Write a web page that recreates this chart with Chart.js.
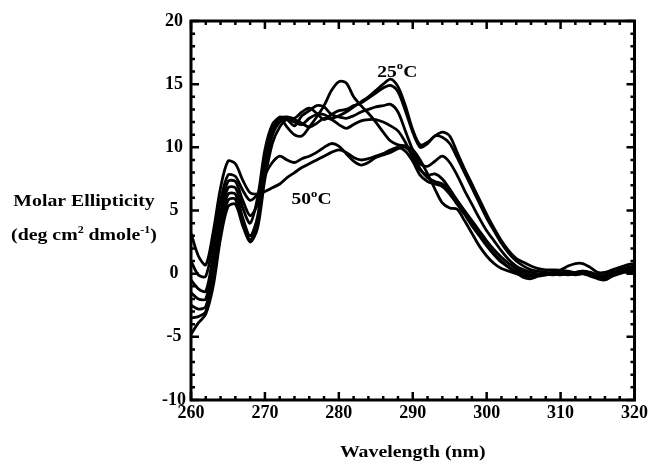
<!DOCTYPE html>
<html>
<head>
<meta charset="utf-8">
<script src="https://cdn.jsdelivr.net/npm/chart.js@4.4.1/dist/chart.umd.min.js"></script>
<style>
html,body{margin:0;padding:0;background:#fff;}
#wrap{width:651px;height:464px;position:relative;}
</style>
</head>
<body>
<div id="wrap"><canvas id="c" width="651" height="464"></canvas></div>
<script>
const wavelength = [260,261,262,263,264,265,266,267,268,269,270,271,272,273,274,275,276,277,278,279,280,281,282,283,284,285,286,287,288,289,290,291,292,293,294,295,296,297,298,299,300,301,302,303,304,305,306,307,308,309,310,311,312,313,314,315,316,317,318,319,320];

const s25 = [-4.8,-3.9,-3.2,-1.0,2.8,5.3,5.5,3.8,2.5,3.6,
  7.5,10.3,11.6,12.2,12.0,11.8,12.3,12.6,12.6,12.3,
  12.5,12.8,13.2,13.6,14.0,14.5,15.0,15.4,14.8,13.3,
  11.4,10.2,10.4,10.9,11.2,10.9,9.6,8.3,7.1,5.9,
  4.7,3.6,2.6,1.8,1.2,0.9,0.6,0.4,0.3,0.3,
  0.3,0.6,0.8,0.8,0.5,0.1,0.1,0.3,0.5,0.7,0.8];
const s30 = [-3.5,-3.4,-3.0,-0.5,3.4,5.8,5.9,4.0,2.7,4.0,
  8.2,11.0,12.3,12.4,12.3,12.8,13.1,12.7,12.2,12.6,
  12.9,13.0,13.3,13.5,13.9,14.3,14.7,14.9,14.4,12.9,
  11.2,10.0,10.3,10.9,10.8,10.3,9.2,8.0,6.8,5.6,
  4.4,3.4,2.4,1.6,1.0,0.6,0.3,0.2,0.1,0.1,
  0.2,0.2,0.1,0.2,0.1,-0.2,-0.3,0.0,0.3,0.5,0.6];
const s35 = [-2.5,-2.8,-2.6,0.2,4.0,6.3,6.3,4.4,3.0,4.5,
  8.8,11.5,12.4,12.2,11.7,12.5,12.9,13.3,13.2,12.6,
  12.4,12.3,12.5,12.8,13.0,13.2,13.3,13.4,12.8,11.3,
  9.8,8.7,8.5,8.9,9.3,8.8,7.8,6.6,5.5,4.4,
  3.4,2.6,1.8,1.1,0.6,0.3,0.1,0.0,-0.1,0.0,
  0.1,0.0,0.1,0.2,0.0,-0.3,-0.2,0.1,0.2,0.3,0.4];
const s37 = [-1.5,-2.0,-2.0,0.8,4.5,6.8,6.8,5.2,4.0,6.0,
  9.8,11.8,12.3,11.6,11.0,10.9,11.6,12.4,13.3,14.5,
  15.2,15.1,14.0,13.3,12.7,12.0,11.2,10.5,10.2,10.1,
  9.8,9.0,7.9,6.7,5.6,5.2,5.1,4.2,3.2,2.2,
  1.4,0.8,0.4,0.2,0.0,-0.2,-0.2,-0.1,0.0,-0.1,
  0.0,0.1,0.0,0.0,-0.2,-0.4,-0.5,-0.2,0.0,0.2,0.3];
const s40 = [-0.5,-1.2,-1.4,1.5,5.0,7.3,7.3,5.8,4.6,5.5,
  9.0,11.0,12.0,12.3,12.2,11.9,11.6,11.9,12.3,12.2,
  11.8,11.5,11.8,12.1,12.2,12.2,12.0,11.7,11.3,10.4,
  9.2,8.2,7.8,7.9,7.5,6.7,5.8,4.9,4.0,3.1,
  2.3,1.6,1.0,0.5,0.1,-0.3,-0.4,-0.2,-0.1,0.0,
  -0.1,0.0,0.1,0.0,-0.1,-0.2,-0.1,0.1,0.2,0.1,0.2];
const s45 = [1.0,-0.1,-0.2,2.5,5.8,7.8,7.7,6.6,5.8,6.3,
  7.8,8.8,9.3,9.0,8.8,9.1,9.3,9.6,10.0,10.3,
  10.1,9.5,8.9,8.6,8.8,9.2,9.4,9.6,9.9,10.0,
  9.4,8.3,7.6,7.3,7.1,6.5,5.8,5.0,4.2,3.4,
  2.6,1.9,1.3,0.8,0.4,0.1,-0.1,-0.1,0.0,0.1,
  0.0,-0.1,0.0,0.1,0.0,-0.3,-0.4,-0.1,0.1,0.3,0.5];
const s50 = [3.2,1.4,0.7,3.3,6.8,8.9,8.7,7.4,6.4,6.3,
  6.5,6.8,7.1,7.6,8.0,8.4,8.7,9.0,9.3,9.6,
  9.8,9.6,9.2,9.0,9.1,9.3,9.5,9.8,10.0,9.7,
  8.9,7.8,7.3,7.1,6.9,6.3,5.5,4.7,3.8,3.0,
  2.2,1.5,0.9,0.5,0.2,0.0,-0.2,-0.1,0.0,0.0,
  0.1,0.0,-0.1,0.0,0.1,-0.1,-0.2,0.0,0.1,0.2,0.2];

const seriesNames = ['25°C','30°C','35°C','37°C','40°C','45°C','50°C'];
const seriesValues = [s25,s30,s35,s37,s40,s45,s50];

const xTicks = [260,270,280,290,300,310,320];
const yTicks = [-10,-5,0,5,10,15,20];
const xMinorStep = 2;
const yMinorStep = 1;

const xTitle = 'Wavelength (nm)';
const yTitleLine1 = [{t:'Molar Ellipticity'}];
const yTitleLine2 = [{t:'(deg cm'},{t:'2',sup:true},{t:' dmole'},{t:'-1',sup:true},{t:')'}];
const annotations = [
  {x:285.2, y:15.6, parts:[{t:'25'},{t:'o',sup:true},{t:'C'}]},
  {x:273.6, y:5.5, parts:[{t:'50'},{t:'o',sup:true},{t:'C'}]}
];

const FONT = "'Liberation Serif','Times New Roman',serif";

function drawParts(ctx, parts, x, baseline, size, align, stretch){
  const supSize = Math.round(size*0.62);
  let w = 0;
  parts.forEach(p=>{
    ctx.font = 'bold ' + (p.sup?supSize:size) + 'px ' + FONT;
    p._w = ctx.measureText(p.t).width;
    w += p._w;
  });
  ctx.save();
  ctx.translate(x, baseline);
  ctx.scale(stretch, 1);
  let cx = align === 'center' ? -w/2 : 0;
  ctx.fillStyle = '#000';
  ctx.textBaseline = 'alphabetic';
  ctx.textAlign = 'left';
  parts.forEach(p=>{
    ctx.font = 'bold ' + (p.sup?supSize:size) + 'px ' + FONT;
    ctx.fillText(p.t, cx, p.sup ? -size*0.42 : 0);
    cx += p._w;
  });
  ctx.restore();
}

const frameAndText = {
  id:'frameAndText',
  afterDatasetsDraw(chart){
    const {ctx, chartArea:{left,right,top,bottom}, scales:{x,y}} = chart;
    ctx.save();
    ctx.strokeStyle = '#000';
    ctx.lineCap = 'butt';
    ctx.lineWidth = 2.5;
    for (let v = x.min; v <= x.max + 1e-9; v += xMinorStep){
      const px = x.getPixelForValue(v);
      const len = xTicks.includes(v) ? 8 : 4;
      ctx.beginPath();
      ctx.moveTo(px, bottom); ctx.lineTo(px, bottom - len);
      ctx.moveTo(px, top); ctx.lineTo(px, top + len);
      ctx.stroke();
    }
    for (let v = y.min; v <= y.max + 1e-9; v += yMinorStep){
      const py = y.getPixelForValue(v);
      const len = yTicks.includes(v) ? 8 : 4;
      ctx.beginPath();
      ctx.moveTo(left, py); ctx.lineTo(left + len, py);
      ctx.moveTo(right, py); ctx.lineTo(right - len, py);
      ctx.stroke();
    }
    ctx.lineWidth = 3;
    ctx.strokeRect(left, top, right-left, bottom-top);
    ctx.restore();

    annotations.forEach(a=>{
      drawParts(ctx, a.parts, x.getPixelForValue(a.x), y.getPixelForValue(a.y), 17, 'left', 1.15);
    });
    drawParts(ctx, yTitleLine1, 84, 206, 16.5, 'center', 1.2);
    drawParts(ctx, yTitleLine2, 84, 240, 16.5, 'center', 1.2);
    drawParts(ctx, [{t:xTitle}], (left+right)/2, 457, 16.5, 'center', 1.2);
  }
};

const datasets = seriesValues.map((vals, i) => ({
  label: seriesNames[i],
  data: wavelength.map((w, j) => ({x: w, y: vals[j]})),
  borderColor: '#000',
  borderWidth: 2.8,
  pointRadius: 0,
  fill: false,
  tension: 0.3
}));

new Chart(document.getElementById('c'), {
  type: 'line',
  data: { datasets },
  options: {
    responsive: false,
    animation: false,
    devicePixelRatio: 1,
    layout: { padding: { top: 21, right: 14, left: 0, bottom: 0 } },
    plugins: { legend: { display: false }, tooltip: { enabled: false } },
    scales: {
      x: {
        type: 'linear', min: 260, max: 320,
        afterFit(s){ s.height = 64; },
        afterBuildTicks(s){ s.ticks = xTicks.map(v => ({value: v})); },
        grid: { display: false, drawTicks: false },
        border: { display: false },
        ticks: { color: '#000', padding: 3, maxRotation: 0,
          font: { family: FONT, size: 18, weight: 'bold' } }
      },
      y: {
        type: 'linear', min: -10, max: 20,
        afterFit(s){ s.width = 191; },
        afterBuildTicks(s){ s.ticks = yTicks.map(v => ({value: v})); },
        grid: { display: false, drawTicks: false },
        border: { display: false },
        ticks: { color: '#000', padding: 5, crossAlign: 'center',
          font: { family: FONT, size: 18, weight: 'bold' } }
      }
    }
  },
  plugins: [frameAndText]
});
</script>
</body>
</html>
